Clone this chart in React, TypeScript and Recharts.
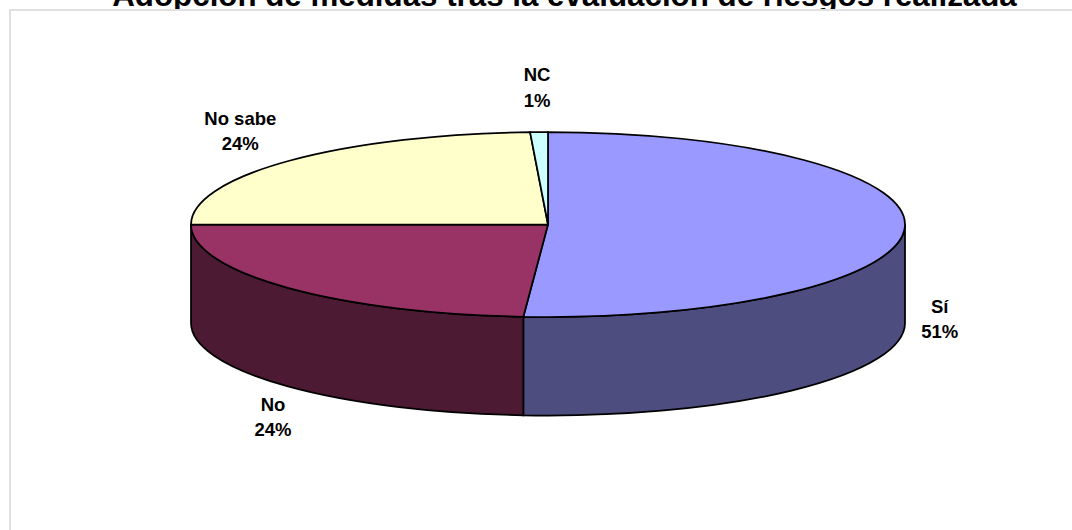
import React from "react";
import { PieChart, Pie, Cell } from "recharts";

const categories = ["Sí", "No", "No sabe", "NC"];
const values = [51.1, 23.9, 24.2, 0.8];
const topColors = ["#9999FF", "#993366", "#FFFFCC", "#CCFFFF"];
const wallColors = ["#4D4D80", "#4D1A33", "#80804D", "#4D8080"];
const title = "Adopción de medidas tras la evaluación de riesgos realizada";

const data = categories.map((name, i) => ({ name, value: values[i], wall: wallColors[i] }));

const CX = 548;
const CY = 224.5;
const RX = 357;
const RY = 92.5;
const DEPTH = 98.5;

// label offsets from the rim of the ellipse, Excel puts these by hand
const labelOffsets: Record<string, [number, number]> = {
  "Sí": [35, 91],
  "No": [-14, 129],
  "No sabe": [-49, -30],
  "NC": [-2, -45],
};

const px = (deg: number) => CX + RX * Math.cos((deg * Math.PI) / 180);
const py = (deg: number) => CY - RY * Math.sin((deg * Math.PI) / 180);

const Slice3D = (props: any) => {
  const { startAngle, endAngle, fill, payload } = props;
  // the wall only shows on the front half of the pie
  const wallStart = Math.min(startAngle, 0);
  const wallEnd = Math.max(endAngle, -180);
  const hasWall = wallStart > wallEnd;
  const top = `M${CX},${CY} L${px(startAngle)},${py(startAngle)} A${RX},${RY} 0 ${
    Math.abs(startAngle - endAngle) > 180 ? 1 : 0
  } 1 ${px(endAngle)},${py(endAngle)} Z`;
  const wall = `M${px(wallStart)},${py(wallStart)} A${RX},${RY} 0 0 1 ${px(wallEnd)},${py(wallEnd)} L${px(wallEnd)},${
    py(wallEnd) + DEPTH
  } A${RX},${RY} 0 0 0 ${px(wallStart)},${py(wallStart) + DEPTH} Z`;
  return (
    <g>
      {hasWall && <path d={wall} fill={payload.wall} stroke="#000" strokeWidth={1.75} />}
      <path d={top} fill={fill} stroke="#000" strokeWidth={1.75} />
    </g>
  );
};

const SliceLabel = (props: any) => {
  const { midAngle, name, value } = props;
  const [dx, dy] = labelOffsets[name];
  const x = px(midAngle) + dx;
  const y = py(midAngle) + dy;
  return (
    <text x={x} y={y} textAnchor="middle" fontFamily="Liberation Sans" fontWeight="bold" fontSize={18.5} fill="#000">
      <tspan x={x} dy={-6}>{name}</tspan>
      <tspan x={x} dy={25.5}>{Math.round(value)}%</tspan>
    </text>
  );
};

export default function App() {
  return (
    <div style={{ position: "fixed", left: 0, top: 0, width: 1072, height: 530, background: "#fff" }}>
      <PieChart width={1072} height={530} margin={{ top: 0, right: 0, bottom: 0, left: 0 }}>
        <text
          x={564.5}
          y={6}
          textAnchor="middle"
          fontFamily="Liberation Sans"
          fontWeight="bold"
          fontSize={31.3}
          fill="#000"
        >
          {title}
        </text>
        <rect x={10} y={10} width={1100} height={560} fill="#fff" stroke="#E0E0E0" strokeWidth={2} />
        <Pie
          data={data}
          dataKey="value"
          nameKey="name"
          cx={CX}
          cy={CY}
          outerRadius={RX}
          startAngle={90}
          endAngle={-270}
          paddingAngle={0}
          stroke="none"
          shape={Slice3D}
          label={SliceLabel}
          labelLine={false}
          isAnimationActive={false}
        >
          {data.map((d, i) => (
            <Cell key={d.name} fill={topColors[i]} />
          ))}
        </Pie>
      </PieChart>
    </div>
  );
}
